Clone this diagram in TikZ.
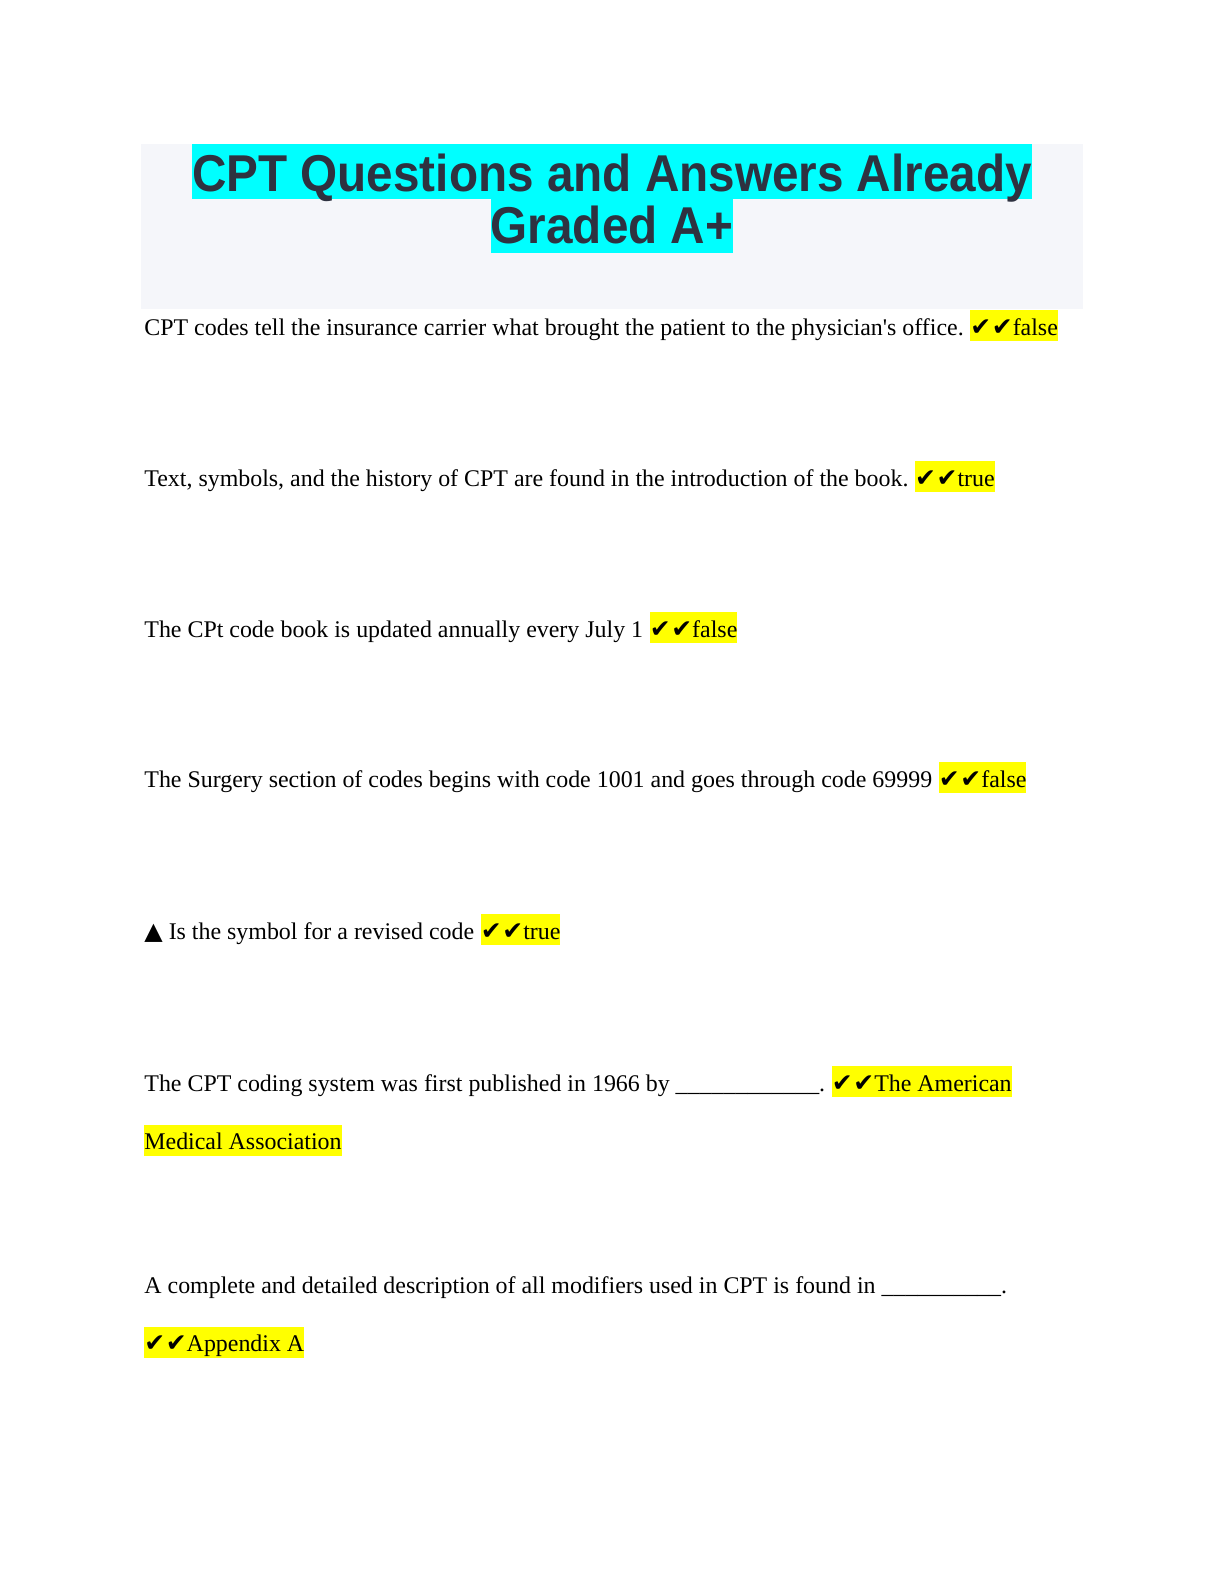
\documentclass[tikz,border=0pt]{standalone}
\usepackage{fontspec}
\setmainfont{Liberation Serif}
\newfontfamily\titlefont[FakeStretch=0.92]{Liberation Sans}
\newfontfamily\symfont{DejaVu Sans}
\usetikzlibrary{calc}
\definecolor{titleink}{HTML}{2E3240}
\definecolor{titlecyan}{HTML}{00FFFF}
\definecolor{pagegray}{HTML}{F5F6FA}
\definecolor{hlyellow}{HTML}{FFFF00}
\tikzstyle{titleline}=[fill=titlecyan,inner xsep=0pt,inner ysep=0pt,anchor=base,font=\titlefont\bfseries\fontsize{26pt}{30pt}\selectfont,text=titleink]
\tikzstyle{question}=[inner sep=0pt,anchor=base west,font=\fontsize{12pt}{14pt}\selectfont]
\tikzstyle{answer}=[fill=hlyellow,inner xsep=0pt,inner ysep=0pt,text height=12.5pt,text depth=3pt,anchor=base west,font=\fontsize{12pt}{14pt}\selectfont]
\newcommand{\chk}{{\symfont\fontsize{12.5pt}{14pt}\selectfont ✔\kern0.3pt✔}}

\begin{document}
\begin{tikzpicture}[x=0.5bp,y=-0.5bp]
  \useasboundingbox (0,0) rectangle (1224,1584);
  % title block
  \fill[pagegray] (141,144) rectangle (1083,309);
  \node[titleline,text height=23.5pt,text depth=4pt] (title1) at (612,191) {CPT Questions and Answers Already};
  \node[titleline,text height=22pt,text depth=5pt] (title2) at (612,243) {Graded A+};
  % one-line questions
  \foreach \i/\yb/\q/\a in {1/335/{CPT codes tell the insurance carrier what brought the patient to the physician\textquotesingle s office.}/false,
                            2/486/{Text, symbols, and the history of CPT are found in the introduction of the book.}/true,
                            3/637/{The CPt code book is updated annually every July 1}/false,
                            4/787/{The Surgery section of codes begins with code 1001 and goes through code 69999}/false,
                            5/939/{{\symfont ▲} Is the symbol for a revised code}/true} {
    \node[question] (q\i) at (144,\yb) {\q};
    \node[answer] (a\i) at ([xshift=3pt]q\i.base east) {\chk\a};
  }
  % wrapped answers
  \node[question] (q6) at (144,1091) {The CPT coding system was first published in 1966 by \_\_\_\_\_\_\_\_\_\_\_\_.};
  \node[answer] (a6) at ([xshift=3pt]q6.base east) {\chk The American};
  \node[answer] (a6b) at ([yshift=-29.5pt]q6.base west) {Medical Association};
  \node[question] (q7) at (144,1293) {A complete and detailed description of all modifiers used in CPT is found in \_\_\_\_\_\_\_\_\_\_.};
  \node[answer] (a7) at ([yshift=-29.5pt]q7.base west) {\chk Appendix A};
\end{tikzpicture}
\end{document}
